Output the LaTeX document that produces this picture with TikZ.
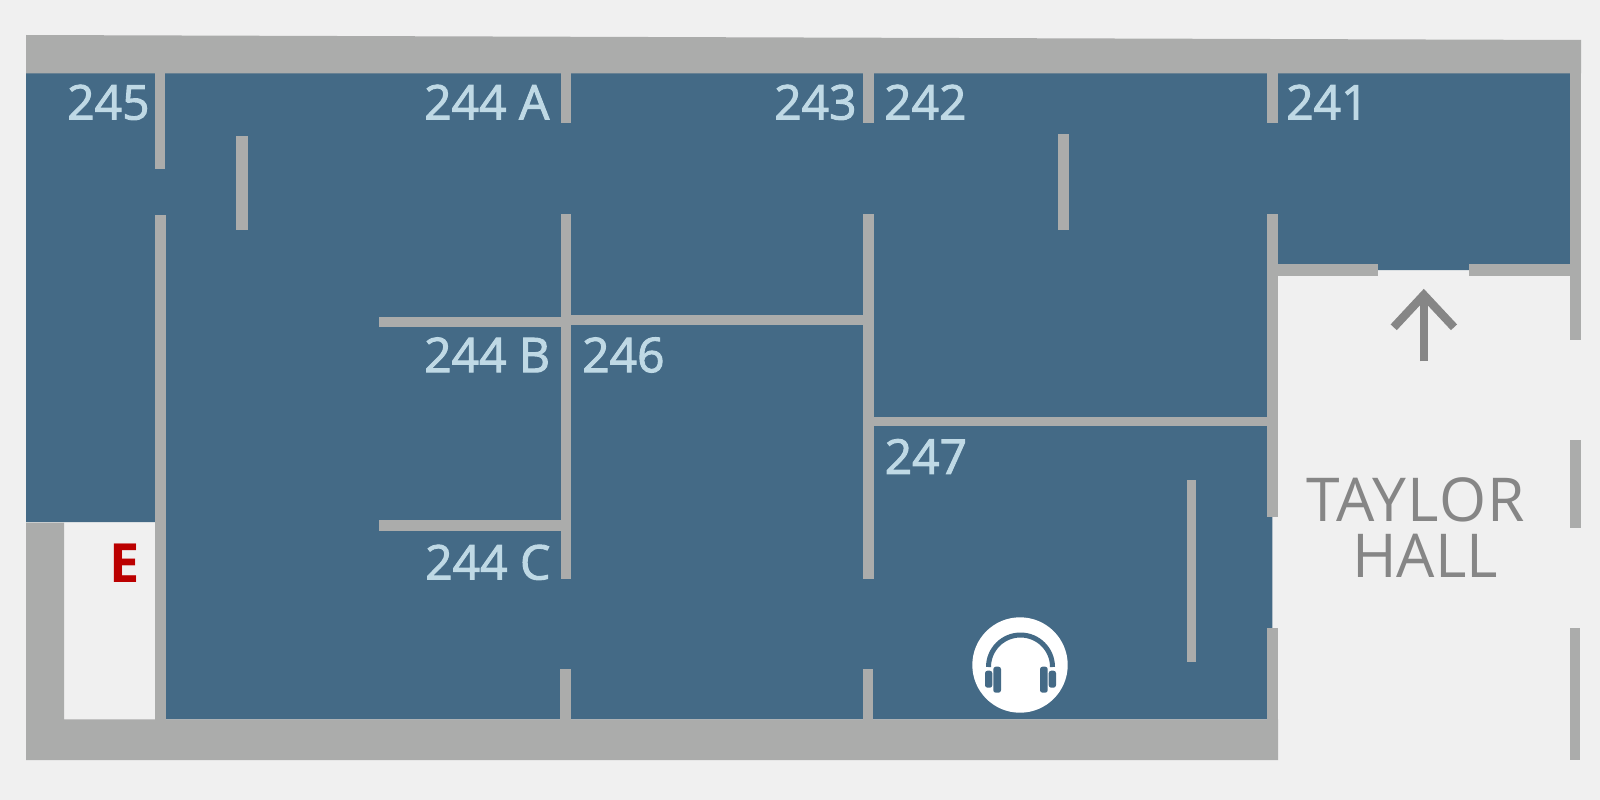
\documentclass[tikz,border=0pt]{standalone}
\usepackage{fontspec}
\setmainfont{Open Sans}
\newfontfamily\labelfont[FakeBold=2]{Open Sans}
\newfontfamily\hallfont{Open Sans}
\newfontfamily\taylorfont[LetterSpace=2.2]{Open Sans}
\definecolor{pagebg}{HTML}{F0F0F0}
\definecolor{roombg}{HTML}{446A86}
\definecolor{wallgrey}{HTML}{ABACAB}
\definecolor{roomtext}{HTML}{BFD9E5}
\definecolor{hallgrey}{HTML}{868686}
\definecolor{exitred}{HTML}{BB0000}
\tikzset{
  wallbar/.style={fill=wallgrey,draw=none},
  roomlabel/.style={anchor=base west,inner sep=0pt,text=roomtext,font=\labelfont\fontsize{48}{48}\selectfont},
  halllabel/.style={anchor=base west,inner sep=0pt,text=hallgrey,font=\hallfont\fontsize{60.5}{60.5}\selectfont},
  taylorlabel/.style={anchor=base west,inner sep=0pt,text=hallgrey,font=\taylorfont\fontsize{60.5}{60.5}\selectfont},
  exitlabel/.style={anchor=base west,inner sep=0pt,text=exitred,font=\bfseries\fontsize{54}{54}\selectfont},
  hallarrow/.style={draw=hallgrey,line width=8.4pt,miter limit=10},
  earpad/.style={fill=roombg,draw=none,rounded corners=2.5pt}
}
\newcommand{\wallrect}[4]{\path[wallbar] (#1,#2) rectangle (#3,#4);}
\begin{document}
\begin{tikzpicture}[x=1pt,y=-1pt]
\useasboundingbox (0,0) rectangle (1600,800);
\fill[pagebg] (0,0) rectangle (1600,800);
% rooms
\fill[roombg] (26,73) -- (1570,73) -- (1570,270) -- (1272.3,270) -- (1272.3,719.3) -- (166,719.3) -- (166,522) -- (26,522) -- cycle;
% outer walls
\path[wallbar] (26,35) -- (1581,40) -- (1581,73.3) -- (26,73.3) -- cycle;
\path[wallbar] (26,522.5) -- (64,522.5) -- (64,719.3) -- (1278,719.3) -- (1278,760) -- (26,760) -- cycle;
\wallrect{155}{522}{166}{720}
\wallrect{154.7}{73}{165.3}{169.3}
\wallrect{155}{215}{166}{522}
\wallrect{236}{136}{248}{230}
% top stubs
\wallrect{560.7}{73}{571.3}{123.3}
\wallrect{863.4}{73}{874.2}{123.3}
\wallrect{1267}{73}{1277.7}{123.3}
% long partitions
\wallrect{560.7}{214.3}{571.3}{578.5}
\wallrect{863.4}{214.3}{874.2}{578.5}
\wallrect{1267}{214.3}{1277.7}{517.3}
\wallrect{1267}{628.3}{1277.7}{720}
\wallrect{379}{316.7}{561}{326.7}
\wallrect{571}{315}{864}{325.3}
\wallrect{379}{520.3}{561}{530.7}
\wallrect{874}{416.7}{1267}{426.3}
\wallrect{1058.3}{134}{1069.3}{230}
\wallrect{1186.5}{480}{1196.3}{661.7}
% bottom stubs
\wallrect{559.5}{669.2}{570.5}{720}
\wallrect{862.5}{669.2}{873}{720}
% hall walls
\wallrect{1277}{264.3}{1378}{275.7}
\wallrect{1469}{264.3}{1581}{275.7}
\wallrect{1570}{40}{1581}{340}
\wallrect{1570}{440}{1580.5}{528.3}
\wallrect{1570}{628}{1580}{760}
% arrow
\draw[hallarrow] (1423.8,361.3) -- (1423.8,296);
\draw[hallarrow] (1393.7,327.3) -- (1423.8,295) -- (1454,327.3);
% headphones
\fill[white] (1020,665) circle[radius=47.7pt];
\draw[roombg,line width=5pt] (988.5,667) arc[start angle=180,end angle=0,radius=32pt];
\path[earpad] (993.3,666.7) rectangle (1001,692.7);
\path[earpad] (985,670.7) rectangle (992.3,687.7);
\path[earpad] (1040,666.7) rectangle (1047.7,692.7);
\path[earpad] (1048.7,670.7) rectangle (1056,687.7);
% labels
\node[roomlabel] (r245) at (67,119.5) {245};
\node[roomlabel] (r244a) at (424,119.5) {244 A};
\node[roomlabel] (r243) at (774,119.5) {243};
\node[roomlabel] (r242) at (884,119.5) {242};
\node[roomlabel] (r241) at (1286,119.5) {241};
\node[roomlabel] (r244b) at (424,372.2) {244 B};
\node[roomlabel] (r246) at (582,372.2) {246};
\node[roomlabel] (r244c) at (425,579.5) {244 C};
\node[roomlabel] (r247) at (884.5,473.8) {247};
\node[exitlabel] (exit) at (109,582.7) {E};
\node[taylorlabel] (hall1) at (1306,521) {TAYLOR};
\node[halllabel] (hall2) at (1352,577) {HALL};
\end{tikzpicture}
\end{document}
